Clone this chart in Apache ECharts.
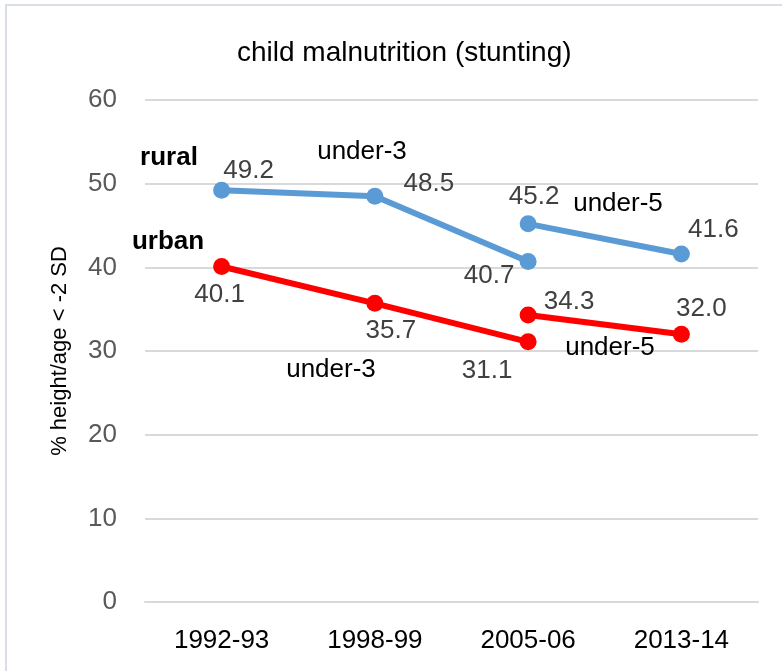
<!DOCTYPE html>
<html>
<head>
<meta charset="utf-8">
<script src="https://cdn.jsdelivr.net/npm/echarts@6/dist/echarts.min.js"></script>
<style>
  html, body { margin: 0; padding: 0; background: #fff; }
  #chart { width: 782px; height: 671px; }
</style>
</head>
<body>
<div id="chart"></div>
<script>
// Survey rounds and stunting rates (% height/age < -2 SD)
const categories = ['1992-93', '1998-99', '2005-06', '2013-14'];
const ruralUnder3 = [49.2, 48.5, 40.7, null];
const ruralUnder5 = [null, null, 45.2, 41.6];
const urbanUnder3 = [40.1, 35.7, 31.1, null];
const urbanUnder5 = [null, null, 34.3, 32.0];
const yTicks = { min: 0, max: 60, interval: 10 };

// Label offsets (pixels from each point), kept apart from the values
const ruralUnder3Offsets = [[27, -20], [54, -12], [-39, 14], null];
const ruralUnder5Offsets = [null, null, [6, -27], [32, -24]];
const urbanUnder3Offsets = [[-2, 28], [16, 28], [-41, 29], null];
const urbanUnder5Offsets = [null, null, [41, -13], [20, -25]];

const FONT = '"Liberation Sans", Arial, sans-serif';
const BLUE = '#5B9BD5';
const RED = '#FF0000';

function withLabels(values, offsets) {
  return values.map((v, i) => {
    if (v === null) return '-';
    return {
      value: v,
      label: { offset: offsets[i] }
    };
  });
}

function lineSeries(name, values, offsets, color) {
  return {
    name: name,
    type: 'line',
    data: withLabels(values, offsets),
    symbol: 'circle',
    symbolSize: 17,
    showAllSymbol: true,
    connectNulls: false,
    lineStyle: { color: color, width: 6 },
    itemStyle: { color: color },
    label: {
      show: true,
      position: 'inside',
      formatter: (p) => p.value.toFixed(1),
      color: '#404040',
      fontFamily: FONT,
      fontSize: 26
    },
    emphasis: { disabled: true },
    z: 3
  };
}

function note(text, x, y, bold) {
  return {
    type: 'text',
    style: {
      text: text,
      x: x,
      y: y,
      align: 'center',
      verticalAlign: 'middle',
      fill: '#000',
      font: (bold ? 'bold ' : '') + '26px ' + FONT
    },
    z: 10
  };
}

const chart = echarts.init(document.getElementById('chart'), null, { renderer: 'canvas' });

chart.setOption({
  backgroundColor: '#fff',
  animation: false,
  title: {
    text: 'child malnutrition (stunting)',
    left: 232,
    top: 34,
    textStyle: {
      color: '#000',
      fontFamily: FONT,
      fontWeight: 'normal',
      fontSize: 28
    }
  },
  grid: { left: 145, right: 24, top: 100, bottom: 69, containLabel: false },
  xAxis: {
    type: 'category',
    data: categories,
    boundaryGap: true,
    axisLine: { show: true, lineStyle: { color: '#d9d9d9', width: 2 } },
    axisTick: { show: false },
    axisLabel: {
      color: '#000',
      fontFamily: FONT,
      fontSize: 26,
      margin: 26
    }
  },
  yAxis: {
    type: 'value',
    min: yTicks.min,
    max: yTicks.max,
    interval: yTicks.interval,
    name: '% height/age < -2 SD',
    nameLocation: 'middle',
    nameGap: 74,
    nameRotate: 90,
    nameTextStyle: {
      color: '#000',
      fontFamily: FONT,
      fontSize: 22,
      padding: [0, 0, 0, 0]
    },
    axisLine: { show: false },
    axisTick: { show: false },
    axisLabel: {
      color: '#595959',
      fontFamily: FONT,
      fontSize: 26,
      margin: 28
    },
    splitLine: { lineStyle: { color: '#d9d9d9', width: 2 } }
  },
  series: [
    lineSeries('rural under-3', ruralUnder3, ruralUnder3Offsets, BLUE),
    lineSeries('rural under-5', ruralUnder5, ruralUnder5Offsets, BLUE),
    lineSeries('urban under-3', urbanUnder3, urbanUnder3Offsets, RED),
    lineSeries('urban under-5', urbanUnder5, urbanUnder5Offsets, RED)
  ],
  graphic: [
    {
      type: 'rect',
      shape: { x: 6, y: 5, width: 800, height: 700 },
      style: { fill: 'none', stroke: '#d9dde6', lineWidth: 2 },
      silent: true,
      z: 0
    },
    note('rural', 169, 158, true),
    note('urban', 168, 242, true),
    note('under-3', 362, 152, false),
    note('under-3', 331, 370, false),
    note('under-5', 618, 204, false),
    note('under-5', 610, 348, false)
  ]
});
</script>
</body>
</html>
